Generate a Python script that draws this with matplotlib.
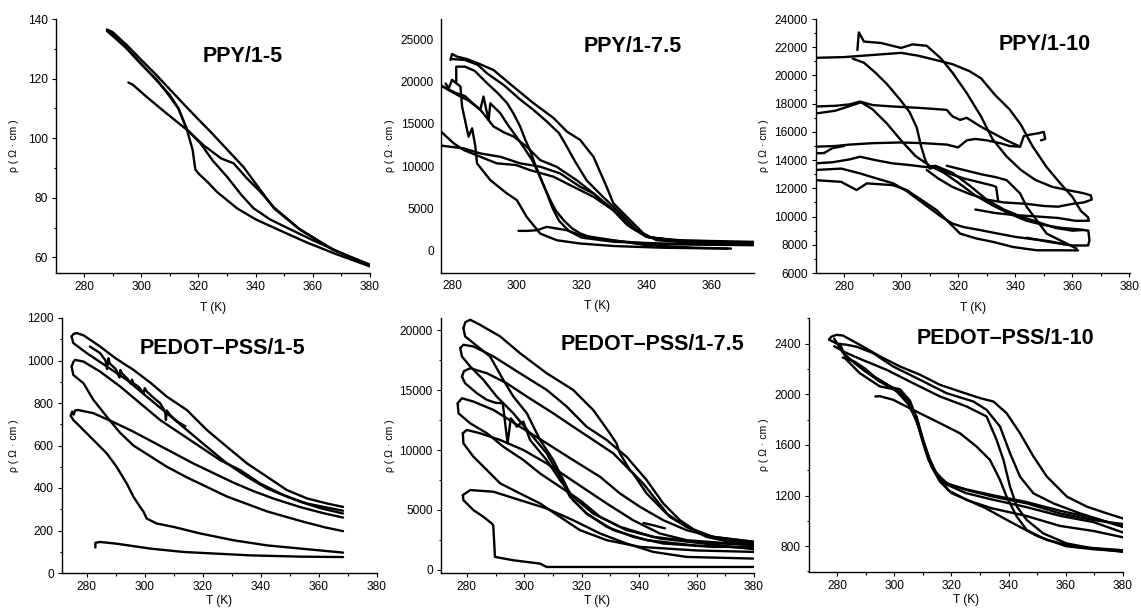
import matplotlib
matplotlib.use("Agg")
import matplotlib.pyplot as plt
from matplotlib.ticker import MultipleLocator

plt.rcParams['font.family'] = ['Liberation Sans', 'DejaVu Sans']

W, H = 1141, 611

# ---------------- data ----------------
# PPY/1-5
ppy5_T = [
    [288.5, 290, 295, 300, 305, 310, 315, 320, 324.2, 328.8, 335.8, 341.7, 346.4, 355.7, 367.4, 380],
    [295.5, 297, 302, 308, 316, 322, 328, 332.3, 337, 341.7, 346.4, 355, 367, 380],
    [288, 291, 295, 300, 305.5, 310, 313, 316, 318, 318.9, 320, 323, 326.5, 333.5, 340, 348, 358, 368, 380],
    [288, 291, 295, 300, 305, 310, 313, 316, 320.7, 325, 330, 335, 339.3, 345, 352, 360, 370, 380],
]
ppy5_rho = [
    [136.3, 135.6, 131.2, 126.3, 121.5, 116.4, 111.3, 106.3, 102.2, 97.5, 90.3, 82.6, 76.5, 69.2, 62.5, 57.4],
    [118.7, 118, 113.8, 109, 102.8, 97.5, 93.2, 91.6, 86.5, 82, 76.8, 69.8, 62.6, 57.6],
    [136, 133.5, 130, 124.8, 119.6, 114, 110, 102.8, 96, 89.6, 88.2, 85.5, 82, 76.5, 72.8, 69.3, 65, 61.2, 57],
    [136.5, 134, 130.2, 125, 119.8, 114.5, 110, 103, 98.3, 92.5, 87.1, 81, 76.5, 72.8, 69.5, 65.8, 61.5, 57.3],
]

# PPY/1-7.5
ppy75_T = [
    [279.5, 280, 281.5, 284.6, 288, 292.8, 299, 305, 311.3, 315.4, 319.5, 323.6, 327.7, 329.7, 333.8, 339, 343, 350, 360, 373],
    [280, 284, 288, 290.8, 296, 301, 305, 309.2, 313, 315.4, 318, 321.5, 325.6, 331.8, 336.9, 341, 350, 360, 373],
    [281.3, 281.3, 284, 287, 290.8, 294, 297, 299, 301, 302.5, 304, 305.5, 307.2, 308.7, 310.3, 312, 314.4, 317,
     319.5, 323, 327.7, 334, 340, 350, 360, 373],
    [275, 276.6, 279, 282.6, 285, 288.7, 292.8, 296, 299, 303, 307.2, 312.3, 318.5, 323.6, 329.7, 334.9, 340, 350, 360, 373],
    [275, 278, 281, 284, 286, 288.7, 289.7, 290.8, 291.3, 291.8, 292.8, 294.9, 297, 300, 302.5, 305, 307, 309, 311,
     313, 316, 320, 330, 345, 360, 373],
    [278, 279, 280, 282.6, 283.1, 285.1, 286.2, 287.2, 287.7, 291.8, 296.9, 300, 303, 307.2, 312.3, 319.5, 330, 345, 365],
    [275, 276.6, 280.5, 283.6, 288.7, 293.8, 299.8, 304, 311.3, 317.4, 323.6, 329.7, 334, 340, 350, 360, 373],
    [275, 283.6, 288.7, 294.9, 301, 307.2, 313.3, 319.5, 323.6, 329.7, 335, 341, 350, 360, 373],
    [300.5, 303, 306.2, 309.2, 315.4, 319.5, 329.7, 340, 355, 366],
]
ppy75_rho = [
    [22600, 23300, 23000, 22700, 22200, 21400, 19400, 17500, 15700, 14100, 13100, 11100, 7500, 5600, 4000, 2000, 1200,
     1000, 800, 700],
    [22700, 22600, 22000, 21000, 19600, 17900, 16700, 15300, 13900, 12300, 10500, 8300, 6700, 4400, 2400, 1500, 1200,
     1100, 1000],
    [20000, 21800, 21800, 21300, 19840, 18700, 17460, 16200, 14700, 13200, 11900, 10300, 8700, 7300, 5950, 4700, 3570,
     2600, 2000, 1500, 1200, 1000, 800, 700, 650, 600],
    [19800, 19600, 19000, 18250, 17800, 16700, 14700, 14000, 13500, 12300, 10700, 9900, 8300, 6750, 4760, 2780, 1590,
     1100, 900, 800],
    [19700, 19300, 18700, 18300, 17600, 16670, 18250, 16270, 15480, 17460, 17060, 16270, 15000, 13400, 12000, 10500,
     8800, 7000, 5000, 3500, 2300, 1500, 1000, 800, 700, 700],
    [19800, 19240, 20240, 19440, 17060, 13490, 14480, 12300, 10320, 8330, 6750, 5950, 3970, 1980, 1190, 800, 500, 300, 200],
    [14200, 14090, 12700, 11900, 11110, 10320, 10120, 9520, 8730, 7540, 6350, 4760, 3000, 1600, 1100, 900, 800],
    [12500, 12100, 11500, 11100, 10320, 9920, 9130, 7540, 6750, 4800, 2800, 1500, 1100, 900, 800],
    [2300, 2300, 2380, 2780, 2380, 1790, 1190, 600, 300, 200],
]

# PPY/1-10
ppy10_T = [
    [284.7, 285.2, 287, 293, 300, 304, 309, 314, 318, 323, 328, 332, 337, 342, 347, 353, 359, 364, 366.5, 366.8, 364,
     360, 355, 350, 344, 336, 330, 324, 318, 313, 309],
    [270, 280, 290, 300, 306, 312, 318, 324, 328, 333, 338, 342, 346, 351, 356, 360, 363, 365.5, 365.8, 361, 355, 348,
     340, 333, 326],
    [283, 287, 291, 295, 299.6, 303, 305.5, 307, 308.5, 310, 312, 316, 322, 328, 332, 333.3, 334],
    [270, 277, 282, 285.6, 290, 297, 306.6, 316, 318, 320.7, 323, 327.7, 332.3, 337, 341.7, 343, 345, 348, 350, 350.5, 349],
    [270, 277, 283, 286, 290, 295, 300, 305, 310, 315, 320, 326, 332, 338, 344, 350, 356, 362, 365.6, 366, 365.5, 360,
     352, 344],
    [270, 277, 282, 290, 300, 308, 316, 320, 323, 326, 330, 334.7, 338, 341.7],
    [270, 273, 276, 280],
    [270, 276, 282, 285.6, 291, 297, 303, 309, 312, 318, 324, 330, 336, 342, 348, 354, 360, 364],
    [270, 279, 285.6, 291.4, 297.3, 302, 306, 310, 314, 318, 322, 328, 334, 340, 346, 352, 358],
    [270, 279, 284.4, 288, 297, 302, 305.5, 309, 312.5, 316, 320.7, 326.5, 332.3, 339.3, 347.5, 355.7, 362],
    [316, 322, 328, 333, 337, 341.7, 344, 347.5, 351, 355.7, 361.5],
]
ppy10_rho = [
    [21800, 23050, 22400, 22300, 21950, 22200, 22100, 21200, 20200, 18750, 17100, 15500, 14250, 13300, 12600, 12100,
     11850, 11650, 11500, 11200, 11000, 10900, 10700, 10750, 10900, 11000, 11200, 11600, 12100, 12700, 13300],
    [21250, 21300, 21450, 21600, 21400, 21100, 20800, 20300, 19800, 18600, 17600, 16500, 15000, 13500, 12300, 11400,
     10400, 9950, 9700, 9700, 9900, 10000, 10100, 10250, 10500],
    [21200, 20900, 20200, 19400, 18300, 17400, 16300, 15000, 14000, 13400, 13500, 13100, 12700, 12400, 12200, 12100, 11100],
    [17800, 17850, 17950, 18150, 17900, 17800, 17700, 17560, 17100, 16850, 17000, 16400, 15900, 15400, 14950, 15700,
     15800, 15900, 16000, 15500, 15400],
    [17300, 17500, 17900, 18100, 17600, 16600, 15400, 14300, 13600, 13100, 12400, 11500, 10800, 10200, 9700, 9400,
     9200, 9100, 9000, 8300, 7950, 7950, 8200, 8500],
    [14950, 15000, 15100, 15200, 15250, 15200, 15100, 14900, 15400, 15500, 15400, 15200, 15000, 14950],
    [14480, 14500, 14850, 15000],
    [13770, 13850, 14050, 14240, 14000, 13770, 13650, 13500, 13600, 13100, 12200, 11200, 10500, 10000, 9600, 9200,
     9000, 9050],
    [13300, 13400, 13060, 12700, 12350, 11800, 11200, 10600, 10000, 9500, 9250, 9030, 8790, 8560, 8400, 8250, 8000],
    [12580, 12460, 11880, 12350, 12230, 11880, 11400, 10930, 10450, 9740, 8790, 8440, 8200, 7840, 7610, 7610, 7600],
    [13600, 13300, 13000, 12800, 12580, 11640, 10690, 9740, 8790, 8320, 7730],
]

# PEDOT-PSS/1-5
pedot5_T = [
    [274.8, 275.5, 276.6, 279, 284.6, 290, 296.1, 302, 307.6, 314.5, 321.4, 328.3, 335.2, 342.1, 349, 355.9, 362.8, 368.3],
    [274.8, 275.4, 280, 286.9, 293.8, 300.7, 307.6, 314.5, 321.4, 328.3, 335.2, 342.1, 349, 355.9, 362, 368.3],
    [281.1, 284.6, 286.5, 287, 287.5, 288, 290, 291.3, 291.6, 292.1, 294, 295.3, 295.6, 296.1, 298, 299.6, 300, 300.7,
     303, 305.3, 307, 307.3, 307.6, 308.7, 311, 314],
    [274.8, 275.5, 276, 278.9, 284.6, 291.5, 298.4, 305.3, 312.2, 319.1, 326, 332.9, 339.8, 346.7, 353.6, 360.5, 368.3],
    [274.8, 275.4, 278.9, 282.3, 286.9, 291.5, 296.1, 300.7, 307.6, 314.5, 321.4, 328.3, 335.2, 342.1, 353.6, 362, 368.3],
    [274.5, 275, 275.5, 276, 277.1, 282.3, 289.2, 296.1, 303, 309.9, 316.8, 323.7, 330.6, 337.5, 344.4, 353.6, 362, 368.3],
    [274.5, 275.4, 277.7, 282.3, 286.9, 290.3, 293.8, 296.1, 298.4, 299.5, 300.7, 304.1, 309.9, 319.1, 330.6, 342.1,
     353.6, 368.3],
    [283, 283, 284.6, 290.3, 301.8, 313.3, 324.8, 336.3, 353.6, 368.3],
]
pedot5_rho = [
    [1113, 1125, 1129, 1118, 1066, 1010, 956, 895, 830, 767, 673, 594, 516, 453, 390, 351, 327, 311],
    [1113, 1082, 1035, 972, 909, 830, 752, 673, 594, 516, 453, 398, 359, 327, 310, 293],
    [1066, 1035, 1000, 960, 1010, 985, 960, 920, 955, 940, 915, 890, 910, 893, 875, 845, 870, 854, 825, 799, 760, 720,
     765, 744, 715, 690],
    [972, 995, 1003, 995, 948, 878, 799, 720, 657, 594, 531, 484, 421, 374, 335, 305, 280],
    [972, 932, 893, 815, 736, 660, 600, 560, 500, 450, 405, 360, 325, 290, 245, 215, 197],
    [740, 760, 745, 765, 767, 752, 710, 665, 615, 565, 515, 470, 425, 385, 350, 310, 280, 261],
    [740, 720, 689, 626, 563, 500, 421, 359, 311, 290, 256, 233, 217, 186, 154, 130, 115, 96],
    [120, 142, 146, 138, 115, 99, 91, 83, 77, 75],
]

# PEDOT-PSS/1-7.5 (upper and lower branch of each loop, both from the left tip)
pedot75_T = [
    [278.8, 279.5, 281.2, 284.6, 291.6, 298.5, 307.8, 317, 324, 329.8, 332.1, 333.3, 336.8, 341.4, 346, 350.7, 356.5,
     363.4, 371.5, 380],
    [278.8, 279.4, 282.3, 288.1, 292.7, 296.2, 300.9, 305.5, 310.1, 313.6, 317, 321.7, 328.7, 337.9, 348.4, 365.7, 380],
    [277.7, 278.8, 282.3, 289.3, 298.5, 307.8, 314.8, 321.7, 328.7, 335.6, 342.6, 348.4, 354.2, 361.1, 370.4, 380],
    [277.7, 278.3, 281.2, 285.8, 290.4, 296.2, 302, 307.8, 312.4, 315.9, 321.7, 331, 342.6, 360, 380],
    [278.3, 279, 281.2, 287, 293.9, 300.9, 310.1, 317, 324, 331, 337.9, 342.6, 349.5, 356.5, 365.7, 380],
    [278.3, 279.4, 283.5, 287, 290, 292.5, 294.2, 295.3, 296.5, 297.4, 298.5, 299.7, 302, 307.8, 312.4, 317, 324,
     333.3, 344.9, 360, 380],
    [276.8, 278.3, 282.3, 289.3, 298.5, 307.8, 317, 326.4, 333.3, 340.3, 348.4, 356.5, 365.7, 380],
    [276.8, 277.1, 281.2, 287, 292.7, 299.7, 305.5, 312.4, 319.4, 326.4, 335.6, 347.2, 380],
    [278.6, 280, 284.6, 291.6, 299.7, 307.8, 314.8, 321.7, 328.7, 337.9, 347.2, 356.5, 380],
    [278.6, 278.8, 282.3, 287, 291.6, 298.5, 305.5, 312.4, 319.4, 328.7, 340.3, 360, 380],
    [278.6, 281.2, 289.3, 298.5, 307.8, 317, 326.4, 335.6, 344.9, 356.5, 380],
    [278.6, 278.8, 282.3, 285.8, 288.7, 289.2, 289.8, 296.2, 305.5, 307.8, 380],
    [341.5, 345, 349],
]
pedot75_rho = [
    [20190, 20700, 20890, 20470, 19500, 18100, 16420, 15030, 13350, 11400, 10560, 9720, 8320, 7200, 5810, 4410, 3580,
     2740, 2320, 2180],
    [20190, 19500, 18940, 17820, 15860, 14470, 13070, 10840, 9160, 7490, 5810, 4690, 3580, 2740, 2180, 1900, 1900],
    [18520, 18800, 18660, 17820, 16420, 15030, 13630, 11950, 10840, 9440, 7490, 5530, 4130, 3020, 2460, 2180],
    [18520, 17820, 16980, 15860, 14470, 13070, 11400, 9720, 7760, 6090, 4690, 3300, 2460, 2000, 1800],
    [16140, 16600, 16840, 16420, 15580, 14470, 13070, 11950, 10840, 9720, 8040, 6370, 4690, 3580, 2740, 2320],
    [16140, 15580, 14750, 14190, 13950, 13910, 10560, 12650, 12300, 11950, 12200, 12370, 10840, 9160, 7490, 6090, 4690,
     3580, 2740, 2300, 2040],
    [13910, 14330, 14050, 13350, 11950, 10560, 9160, 7760, 6370, 5250, 4130, 3300, 2740, 2320],
    [13910, 13070, 12230, 11400, 10280, 9160, 8040, 6930, 5810, 4410, 3300, 2600, 1700],
    [11400, 11680, 11400, 10840, 10000, 8880, 7760, 6650, 5530, 4130, 3020, 2460, 2040],
    [11400, 10560, 9440, 8320, 7210, 6370, 5530, 4410, 3300, 2460, 1900, 1600, 1480],
    [6230, 6650, 6510, 5810, 5110, 4130, 3020, 2180, 1480, 1060, 920],
    [6230, 5810, 4970, 4410, 3850, 3700, 1060, 780, 500, 220, 220],
    [3900, 3700, 3450],
]

# PEDOT-PSS/1-10
pedot10_T = [
    [277.2, 278, 279.8, 282, 287.9, 295, 302, 309, 316, 323, 330, 334.7, 339.3, 344, 348.7, 353.4, 360.4, 367.4, 374.4, 380],
    [277.2, 280, 283.3, 287, 292.6, 299.6, 309, 318.3, 327.7, 332.3, 337, 340.5, 344, 348.7, 355.7, 365, 380],
    [279, 283, 288, 297.3, 306.6, 316, 325.3, 332.3, 335.8, 338.2, 340.5, 342.9, 346.4, 352.2, 360.4, 369.7, 380],
    [293.4, 295, 299.6, 306.6, 316, 323, 328.8, 333.5, 337, 339.3, 342.9, 346.4, 353.4, 363.8, 380],
    [281, 283.3, 287.9, 295, 300.9, 304.3, 307.8, 310.1, 312.5, 314.8, 318.3, 325.3, 334.7, 346.4, 358, 369.7, 380],
    [279, 282, 286, 290, 296, 301, 305, 308, 310, 312, 315, 319, 325, 335, 346, 358, 370, 380],
    [282, 286, 290, 294, 299, 303, 306, 308.5, 311, 314, 318, 325, 334, 346, 358, 369.7, 380],
    [285, 289, 294, 298, 302, 305.5, 308, 310.5, 313, 316, 320, 326, 334, 346, 358, 369.7, 380],
    [286, 290, 295, 300, 304, 307, 309.5, 312, 315, 319, 325, 332, 340, 350, 360, 370, 380],
]
pedot10_rho = [
    [2432, 2455, 2470, 2465, 2392, 2300, 2220, 2155, 2075, 2022, 1970, 1943, 1851, 1692, 1508, 1349, 1191, 1112, 1059, 1019],
    [2432, 2400, 2392, 2375, 2326, 2220, 2115, 2009, 1943, 1877, 1745, 1534, 1349, 1217, 1138, 1059, 953],
    [2380, 2330, 2280, 2194, 2088, 1983, 1904, 1825, 1640, 1481, 1270, 1112, 1006, 900, 821, 782, 755],
    [1983, 1985, 1957, 1877, 1772, 1692, 1587, 1481, 1323, 1191, 1032, 927, 848, 795, 768],
    [2400, 2273, 2168, 2062, 2036, 1957, 1825, 1640, 1481, 1376, 1297, 1244, 1191, 1138, 1059, 1006, 975],
    [2440, 2330, 2250, 2180, 2100, 2020, 1920, 1780, 1620, 1480, 1360, 1290, 1250, 1200, 1150, 1080, 1020, 953],
    [2290, 2260, 2200, 2120, 2060, 2000, 1900, 1740, 1560, 1400, 1290, 1220, 1170, 1110, 1040, 990, 908],
    [2270, 2210, 2120, 2060, 2040, 1950, 1800, 1600, 1430, 1310, 1220, 1160, 1100, 1040, 960, 920, 870],
    [2250, 2180, 2100, 2040, 1980, 1860, 1680, 1500, 1360, 1240, 1170, 1100, 1000, 880, 800, 775, 760],
]

titles = ["PPY/1-5", "PPY/1-7.5", "PPY/1-10", "PEDOT\u2013PSS/1-5", "PEDOT\u2013PSS/1-7.5", "PEDOT\u2013PSS/1-10"]

# ---------------- layout ----------------
fig = plt.figure(figsize=(W / 100, H / 100), dpi=100)


def px_axes(l, t, r, b):
    return fig.add_axes([l / W, 1 - b / H, (r - l) / W, (b - t) / H])


panels = [
    dict(box=(56, 19, 370, 273), xlim=(270.2, 380), ylim=(54.8, 140), xt=(20, 10), yt=(20, 10), ticks=True,
         tpos=(243, 57), ylx=14, lp=6, data=(ppy5_T, ppy5_rho)),
    dict(box=(441, 19, 754, 273), xlim=(276.6, 373.1), ylim=(-2700, 27460), xt=(20, None), yt=(5000, None), ticks=False,
         tpos=(633, 46), ylx=390, lp=6, data=(ppy75_T, ppy75_rho)),
    dict(box=(816, 19, 1130, 273), xlim=(270.2, 380.2), ylim=(6000, 24000), xt=(20, 10), yt=(2000, 1000), ticks=True,
         tpos=(1045, 45), ylx=764, lp=6, data=(ppy10_T, ppy10_rho)),
    dict(box=(62, 318, 377, 573), xlim=(271.5, 380), ylim=(0, 1200), xt=(20, 10), yt=(200, 100), ticks=True,
         tpos=(222, 348), ylx=14, lp=1.5, data=(pedot5_T, pedot5_rho)),
    dict(box=(441, 318, 754, 573), xlim=(271, 380), ylim=(-285, 21040), xt=(20, 10), yt=(5000, 2500), ticks=True,
         tpos=(653, 345), ylx=390, lp=1.5, data=(pedot75_T, pedot75_rho)),
    dict(box=(809, 318, 1123, 572), xlim=(270.2, 380), ylim=(596, 2603), xt=(20, 10), yt=(400, 200), ticks=True,
         tpos=(1005, 338), ylx=764, lp=1.5, data=(pedot10_T, pedot10_rho)),
]

for p, title in zip(panels, titles):
    ax = px_axes(*p['box'])
    Ts, rhos = p['data']
    for T, r in zip(Ts, rhos):
        ax.plot(T, r, color='black', lw=1.7, solid_joinstyle='round', solid_capstyle='round')
    ax.set_xlim(*p['xlim'])
    ax.set_ylim(*p['ylim'])
    for s in ('top', 'right'):
        ax.spines[s].set_visible(False)
    for s in ('left', 'bottom'):
        ax.spines[s].set_linewidth(1.0)
    ax.xaxis.set_major_locator(MultipleLocator(p['xt'][0]))
    ax.yaxis.set_major_locator(MultipleLocator(p['yt'][0]))
    if p['xt'][1]:
        ax.xaxis.set_minor_locator(MultipleLocator(p['xt'][1]))
    if p['yt'][1]:
        ax.yaxis.set_minor_locator(MultipleLocator(p['yt'][1]))
    if p['ticks']:
        ax.tick_params(which='major', direction='out', length=3, width=0.8, labelsize=8.6, pad=3)
        ax.tick_params(which='minor', direction='out', length=1.8, width=0.8)
    else:
        ax.tick_params(which='both', length=0, labelsize=8.6, pad=5)
    ax.set_xlabel("T (K)", fontsize=8.6, labelpad=p['lp'])
    ax.patch.set_alpha(0)
    l, t, r, b = p['box']
    fig.text(p['tpos'][0] / W, 1 - p['tpos'][1] / H, title, fontsize=15.5, fontweight='bold',
             ha='center', va='center')
    fig.text(p['ylx'] / W, 1 - ((t + b) / 2) / H, "\u03c1 ( \u03a9 \u00b7 cm )", fontsize=7.6,
             rotation=90, ha='center', va='center')

fig.savefig("out.png", dpi=100)
